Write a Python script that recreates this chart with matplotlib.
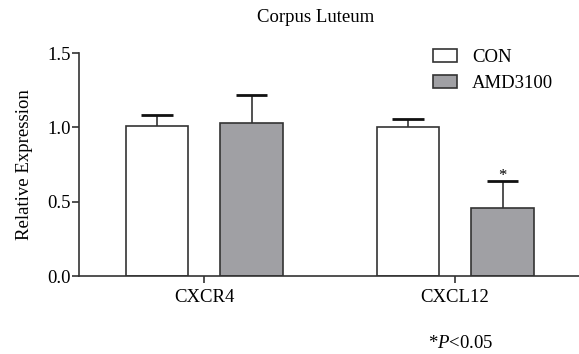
import numpy as np
import matplotlib.pyplot as plt

plt.rcParams['font.family'] = ['Liberation Serif', 'DejaVu Serif']
plt.rcParams['mathtext.fontset'] = 'custom'
plt.rcParams['mathtext.rm'] = 'Liberation Serif'
plt.rcParams['mathtext.it'] = 'Liberation Serif:italic'

genes = ['CXCR4', 'CXCL12']
con = [1.01, 1.00]
con_err = [0.075, 0.058]
amd = [1.03, 0.46]
amd_err = [0.185, 0.18]

fig = plt.figure(figsize=(5.79, 3.54), dpi=100)
ax = fig.add_axes([0.1364, 0.2203, 0.8636, 0.6297])

x = np.arange(len(genes))
w = 0.25
edge = '#333333'
fs = 13.5


def bars(pos, vals, errs, color, label):
    ax.bar(pos, vals, w, color=color, edgecolor=edge, linewidth=1.2, label=label, zorder=2)
    tops = np.array(vals) + np.array(errs)
    ax.vlines(pos, vals, tops, color=edge, linewidth=1.2, zorder=1)
    ax.hlines(tops, pos - w / 4, pos + w / 4, color='#111111', linewidth=2, zorder=1)


bars(x - 0.187, con, con_err, 'white', 'CON')
bars(x + 0.19, amd, amd_err, '#a0a0a4', 'AMD3100')

# significance mark
ax.text(1 + 0.19, amd[1] + amd_err[1] - 0.019, '*', ha='center', va='bottom', fontsize=12)

ax.set_xlim(-0.498, 1.494)
ax.set_ylim(0, 1.5)
ax.set_yticks([0, 0.5, 1.0, 1.5])
ax.set_yticklabels(['0.0', '0.5', '1.0', '1.5'])
ax.set_xticks(x)
ax.set_xticklabels(genes)
ax.tick_params(labelsize=fs, color=edge, width=1.2, length=5)
ax.tick_params(axis='y', pad=1)
ax.tick_params(axis='x', pad=4)
for s in ['top', 'right']:
    ax.spines[s].set_visible(False)
for s in ['left', 'bottom']:
    ax.spines[s].set_color(edge)
    ax.spines[s].set_linewidth(1.2)
ax.set_ylabel('Relative Expression', fontsize=fs, labelpad=10)

ax.legend(loc='upper left', bbox_to_anchor=(0.674, 1.094), frameon=False, fontsize=fs,
          handlelength=1.28, handleheight=0.7, labelspacing=0.45, handletextpad=0.8)

fig.text(316 / 579, 1 - 18 / 354, 'Corpus Luteum', ha='center', va='center', fontsize=fs)
fig.text(461 / 579, 1 - 343 / 354, r'*$P$<0.05', ha='center', va='center', fontsize=fs)

fig.savefig('out.png', dpi=100)
